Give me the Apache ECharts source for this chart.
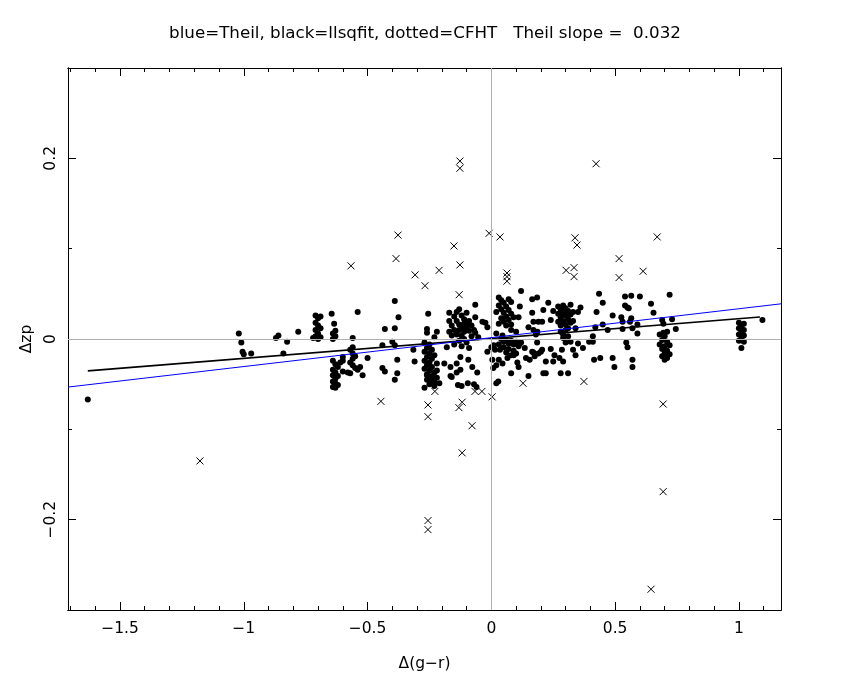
<!DOCTYPE html>
<html>
<head>
<meta charset="utf-8">
<script src="https://cdn.jsdelivr.net/npm/echarts@6/dist/echarts.min.js"></script>
<style>
html,body{margin:0;padding:0;background:#fff;}
#c{width:850px;height:680px;}
</style>
</head>
<body>
<div id="c"></div>
<script>
const titleText = "blue=Theil, black=llsqfit, dotted=CFHT   Theil slope =  0.032";
const xName = "\u0394(g\u2212r)";
const yName = "\u0394zp";
const xRange = [-1.71, 1.17];
const yRange = [-0.3, 0.3];
const xMajorTicks = [-1.5, -1, -0.5, 0, 0.5, 1];
const xMinorTicks = [-1.7,-1.6,-1.4,-1.3,-1.2,-1.1,-0.9,-0.8,-0.7,-0.6,-0.4,-0.3,-0.2,-0.1,0.1,0.2,0.3,0.4,0.6,0.7,0.8,0.9,1.1];
const yMajorTicks = [-0.2, 0, 0.2];
const yMinorTicks = [-0.1, 0.1];
const theilSlope = 0.032, theilIntercept = 0.0015;
const lsqSlope = 0.022, lsqIntercept = 0.0005;
const lsqXRange = [-1.63, 1.085];

const crosses = [
[-1.177,-0.135],[-0.567,0.081],[-0.377,0.115],[-0.385,0.089],[-0.151,0.103],
[-0.127,0.197],[-0.127,0.189],[-0.009,0.117],[0.035,0.113],[-0.127,0.082],
[-0.211,0.076],[-0.308,0.071],[-0.268,0.059],[-0.13,0.049],
[0.063,0.073],[0.063,0.069],[0.063,0.064],
[0.423,0.194],[0.338,0.112],[0.346,0.104],[0.67,0.113],[0.516,0.089],
[0.302,0.076],[0.334,0.079],[0.334,0.069],[0.516,0.068],[0.613,0.075],
[-0.228,-0.058],[-0.446,-0.069],[-0.256,-0.073],[-0.256,-0.086],
[-0.118,-0.070],[-0.131,-0.076],[-0.066,-0.058],[-0.038,-0.058],[0.003,-0.064],
[0.128,-0.049],[-0.078,-0.096],[-0.118,-0.126],[-0.256,-0.201],[-0.256,-0.211],
[0.374,-0.047],[0.694,-0.072],[0.694,-0.169],[0.645,-0.277]
];

const dots = [
[-1.63,-0.067],
[-1.02,0.006],[-1.01,-0.004],[-1.005,-0.014],[-1.00,-0.017],[-0.97,-0.016],
[-0.87,0.001],[-0.86,0.004],[-0.825,-0.003],[-0.84,-0.016],[-0.78,0.008],
[-0.71,0.026],[-0.70,0.023],[-0.69,0.025],[-0.71,0.018],[-0.70,0.015],[-0.69,0.012],[-0.71,0.010],[-0.70,0.006],[-0.71,0.003],[-0.69,0.002],[-0.70,0.000],[-0.72,0.001],
[-0.645,0.028],[-0.635,0.017],[-0.63,0.009],[-0.64,0.006],[-0.63,0.003],[-0.64,0.000],
[-0.64,-0.024],[-0.63,-0.028],[-0.62,-0.031],[-0.64,-0.034],[-0.63,-0.037],[-0.64,-0.040],[-0.62,-0.041],[-0.63,-0.044],[-0.64,-0.047],[-0.63,-0.049],[-0.62,-0.051],[-0.64,-0.053],[-0.63,-0.054],
[-0.60,-0.020],[-0.60,-0.024],[-0.58,-0.037],[-0.57,-0.038],[-0.61,-0.026],[-0.60,-0.036],
[-0.56,0.001],[-0.56,-0.009],[-0.57,-0.012],[-0.56,-0.016],[-0.55,-0.019],[-0.56,-0.022],[-0.57,-0.026],[-0.56,-0.029],[-0.55,-0.032],
[-0.54,0.030],[-0.53,-0.031],[-0.52,-0.040],[-0.50,-0.021],[-0.54,-0.034],
[-0.44,-0.032],[-0.43,-0.036],[-0.44,-0.007],[-0.40,-0.003],[-0.39,-0.007],[-0.38,-0.023],[-0.38,-0.038],[-0.39,-0.045],[-0.31,-0.025],[-0.315,-0.012],
[-0.43,0.011],[-0.39,0.012],[-0.375,0.024],[-0.39,0.042],[-0.255,0.028],[-0.26,0.011],[-0.26,0.007],[-0.22,0.008],[-0.23,0.002],
[-0.27,-0.004],[-0.25,-0.006],[-0.26,-0.010],[-0.24,-0.012],[-0.27,-0.014],[-0.25,-0.016],[-0.23,-0.018],[-0.26,-0.020],[-0.24,-0.022],[-0.27,-0.024],[-0.25,-0.026],[-0.22,-0.027],[-0.26,-0.029],[-0.24,-0.031],[-0.27,-0.033],[-0.25,-0.035],[-0.23,-0.037],[-0.26,-0.039],[-0.24,-0.041],[-0.22,-0.043],[-0.26,-0.045],[-0.24,-0.047],[-0.25,-0.050],[-0.23,-0.052],[-0.27,-0.054],[-0.21,-0.049],[-0.22,-0.035],[-0.26,-0.040],[-0.24,-0.044],[-0.23,-0.048],
[-0.165,-0.041],[-0.135,-0.051],[-0.12,-0.052],[-0.14,-0.037],[-0.095,-0.049],[-0.07,-0.050],[-0.06,-0.053],[-0.057,-0.037],[0.028,-0.047],[0.08,-0.038],[0.15,-0.041],
[-0.17,0.020],[-0.16,0.015],[-0.15,0.025],[-0.15,0.010],[-0.14,0.030],[-0.14,0.020],[-0.14,0.005],[-0.13,0.033],[-0.13,0.016],[-0.13,0.010],[-0.13,-0.002],[-0.12,0.026],[-0.12,0.012],[-0.12,0.004],[-0.12,-0.008],[-0.11,0.022],[-0.11,0.017],[-0.11,0.008],[-0.11,0.000],[-0.10,0.029],[-0.10,0.013],[-0.10,-0.004],[-0.09,0.020],[-0.09,0.009],[-0.09,-0.010],[-0.08,0.015],[-0.08,0.003],[-0.15,-0.006],[-0.16,0.004],[-0.17,0.008],[-0.07,0.010],
[-0.065,0.038],[-0.065,0.024],[-0.097,0.016],[-0.036,0.019],[-0.024,0.018],[-0.016,0.013],[-0.065,0.007],[-0.053,0.002],[-0.17,0.029],
[-0.18,-0.009],[-0.19,-0.027],[-0.16,-0.042],[-0.125,-0.020],[-0.14,-0.027],[-0.125,-0.034],[-0.093,-0.023],[-0.077,-0.031],[-0.016,-0.014],[0.004,-0.023],[0.008,-0.032],[-0.165,-0.031],
[0.00,-0.009],[0.035,-0.012],[0.065,-0.021],[0.045,-0.027],[0.09,-0.018],[0.115,-0.005],[0.135,-0.010],[0.155,-0.023],[0.17,-0.015],[0.185,-0.004],[0.20,-0.014],[0.11,-0.031],[0.02,-0.049],
[0.03,0.046],[0.04,0.043],[0.05,0.040],[0.03,0.037],[0.06,0.036],[0.04,0.033],[0.07,0.032],[0.05,0.029],[0.08,0.028],[0.06,0.025],[0.04,0.023],[0.07,0.021],[0.05,0.019],[0.03,0.017],[0.06,0.015],[0.08,0.041],[0.07,0.044],[0.09,0.024],[0.02,0.030],[0.08,0.016],
[0.12,0.053],[0.165,0.044],[0.185,0.046],[0.115,0.036],[0.21,0.032],[0.165,0.029],[0.11,0.024],[0.19,0.019],[0.15,0.013],[0.08,0.010],[0.10,0.008],[0.17,0.010],[0.18,0.005],[0.02,0.006],[0.045,0.004],
[0.04,0.000],[0.05,-0.003],[0.06,-0.001],[0.07,-0.005],[0.08,-0.002],[0.09,-0.006],[0.10,-0.003],[0.11,-0.008],[0.12,-0.004],[0.05,-0.009],[0.07,-0.011],[0.09,-0.013],[0.06,-0.015],[0.10,-0.016],[0.08,-0.018],[0.03,-0.006],
[0.01,-0.007],[0.015,-0.012],[0.03,-0.023],[0.105,-0.026],[0.14,-0.021],[0.205,-0.012],[0.22,-0.025],[0.25,-0.025],[0.21,-0.038],[0.02,-0.029],
[0.186,0.008],[0.205,0.019],[0.17,0.019],[0.165,-0.014],[0.175,-0.019],[0.19,-0.016],[0.22,-0.038],
[0.27,0.036],[0.28,0.033],[0.29,0.037],[0.30,0.034],[0.31,0.031],[0.32,0.038],[0.27,0.028],[0.28,0.024],[0.29,0.029],[0.30,0.026],[0.31,0.022],[0.32,0.027],[0.33,0.030],[0.27,0.019],[0.28,0.015],[0.29,0.020],[0.30,0.016],[0.31,0.012],[0.32,0.018],[0.28,0.008],[0.29,0.005],[0.30,0.010],[0.31,0.003],[0.29,0.001],[0.33,0.020],[0.34,0.012],
[0.35,0.030],[0.23,0.040],[0.25,0.031],[0.24,0.021],[0.36,0.035],
[0.24,-0.011],[0.255,-0.018],[0.275,-0.021],[0.30,-0.004],[0.32,-0.003],[0.35,-0.005],[0.33,-0.012],[0.34,-0.018],[0.37,-0.010],[0.395,-0.003],[0.41,-0.003],[0.41,0.003],[0.285,-0.012],[0.29,-0.025],[0.415,-0.023],[0.44,-0.021],[0.31,-0.038],[0.28,-0.038],
[0.435,0.050],[0.45,0.040],[0.425,0.030],[0.45,0.016],[0.42,0.013],[0.47,0.010],[0.49,0.026],[0.525,0.024],[0.53,0.019],
[0.54,0.047],[0.565,0.048],[0.60,0.047],[0.55,0.035],[0.555,0.034],[0.54,0.037],[0.565,0.023],[0.59,0.016],[0.53,0.011],[0.59,0.006],[0.56,0.019],[0.57,0.012],
[0.645,0.039],[0.655,0.029],[0.69,0.021],[0.695,0.017],[0.73,0.022],[0.745,0.011],[0.72,0.049],[0.695,0.007],[0.71,0.008],
[0.68,0.005],[0.70,0.003],[0.69,-0.001],[0.71,-0.003],[0.68,-0.006],[0.70,-0.008],[0.72,-0.007],[0.69,-0.011],[0.71,-0.013],[0.70,-0.016],[0.72,-0.017],[0.69,-0.019],[0.71,-0.021],[0.70,-0.023],
[0.545,-0.004],[0.55,-0.009],[0.49,-0.021],[0.497,-0.031],[0.57,-0.023],[0.57,-0.031],
[1.00,0.018],[1.01,0.015],[1.02,0.017],[1.00,0.012],[1.02,0.010],[1.01,0.008],[1.00,0.005],[1.02,0.004],[1.01,0.001],[1.00,-0.002],[1.02,-0.003],[1.01,0.012],[1.01,-0.010],
[1.095,0.021]
];

const FONT = 'DejaVu Sans';
const fmt = v => (v < 0 ? '\u2212' + String(Math.abs(v)) : String(v));
const lineY = (m, b, x) => m * x + b;

function xAx(pos, ticks, len, labels, gridIndex, extra) {
  return Object.assign({
    type: 'value', gridIndex: gridIndex, position: pos, min: xRange[0], max: xRange[1],
    axisLine: { show: true, onZero: false, lineStyle: { color: '#000', width: 1 } },
    axisTick: { show: true, inside: true, length: len, customValues: ticks, lineStyle: { color: '#000', width: 1 } },
    axisLabel: labels ? { show: true, customValues: ticks, formatter: fmt, margin: 11, color: '#000', fontFamily: FONT, fontSize: 15.5, showMinLabel: true, showMaxLabel: true } : { show: false },
    splitLine: { show: false }
  }, extra || {});
}
function yAx(pos, ticks, len, labels, gridIndex, extra) {
  return Object.assign({
    type: 'value', gridIndex: gridIndex, position: pos, min: yRange[0], max: yRange[1],
    axisLine: { show: true, onZero: false, lineStyle: { color: '#000', width: 1 } },
    axisTick: { show: true, inside: true, length: len, customValues: ticks, lineStyle: { color: '#000', width: 1 } },
    axisLabel: labels ? { show: true, customValues: ticks, formatter: fmt, rotate: 90, margin: 9, color: '#000', fontFamily: FONT, fontSize: 15.5 } : { show: false },
    splitLine: { show: false }
  }, extra || {});
}

const gridBox = { left: 68, right: 69, top: 68, bottom: 70, containLabel: false };

const chart = echarts.init(document.getElementById('c'), null, { renderer: 'canvas' });
chart.setOption({
  animation: false,
  backgroundColor: '#fff',
  title: { text: titleText, left: 'center', top: 20, textStyle: { fontFamily: FONT, fontSize: 16.7, fontWeight: 'normal', color: '#000' } },
  grid: [Object.assign({}, gridBox), Object.assign({}, gridBox)],
  xAxis: [
    xAx('bottom', xMajorTicks, 8, true, 0, { name: xName, nameLocation: 'middle', nameGap: 46, nameTextStyle: { fontFamily: FONT, fontSize: 15.5, color: '#000' } }),
    xAx('top', xMajorTicks, 8, false, 0),
    xAx('bottom', xMinorTicks, 4, false, 1),
    xAx('top', xMinorTicks, 4, false, 1)
  ],
  yAxis: [
    yAx('left', yMajorTicks, 8, true, 0, { name: yName, nameLocation: 'middle', nameGap: 31, nameRotate: 90, nameTextStyle: { fontFamily: FONT, fontSize: 15.5, color: '#000' } }),
    yAx('right', yMajorTicks, 8, false, 0),
    yAx('left', yMinorTicks, 4, false, 1),
    yAx('right', yMinorTicks, 4, false, 1)
  ],
  series: [
    {
      type: 'line', xAxisIndex: 0, yAxisIndex: 0, data: [], z: 1, silent: true,
      markLine: {
        silent: true, symbol: ['none', 'none'], label: { show: false },
        lineStyle: { color: '#b0b0b0', type: 'solid', width: 1 },
        data: [{ xAxis: 0 }, { yAxis: 0 }]
      }
    },
    {
      type: 'scatter', xAxisIndex: 0, yAxisIndex: 0, data: dots, z: 3,
      symbol: 'circle', symbolSize: 6, itemStyle: { color: '#000', opacity: 1 }
    },
    {
      type: 'scatter', xAxisIndex: 0, yAxisIndex: 0, data: crosses, z: 3,
      symbol: 'path://M0,0L10,10M10,0L0,10', symbolSize: 7,
      itemStyle: { color: 'rgba(0,0,0,0)', borderColor: '#000', borderWidth: 1, opacity: 1 }
    },
    {
      type: 'line', xAxisIndex: 0, yAxisIndex: 0, z: 4, symbol: 'none', silent: true,
      lineStyle: { color: '#000', width: 1.7 },
      data: [[lsqXRange[0], lineY(lsqSlope, lsqIntercept, lsqXRange[0])], [lsqXRange[1], lineY(lsqSlope, lsqIntercept, lsqXRange[1])]]
    },
    {
      type: 'line', xAxisIndex: 0, yAxisIndex: 0, z: 5, symbol: 'none', silent: true,
      lineStyle: { color: '#0000ff', width: 1 },
      data: [[xRange[0], lineY(theilSlope, theilIntercept, xRange[0])], [xRange[1], lineY(theilSlope, theilIntercept, xRange[1])]]
    }
  ]
});
</script>
</body>
</html>
